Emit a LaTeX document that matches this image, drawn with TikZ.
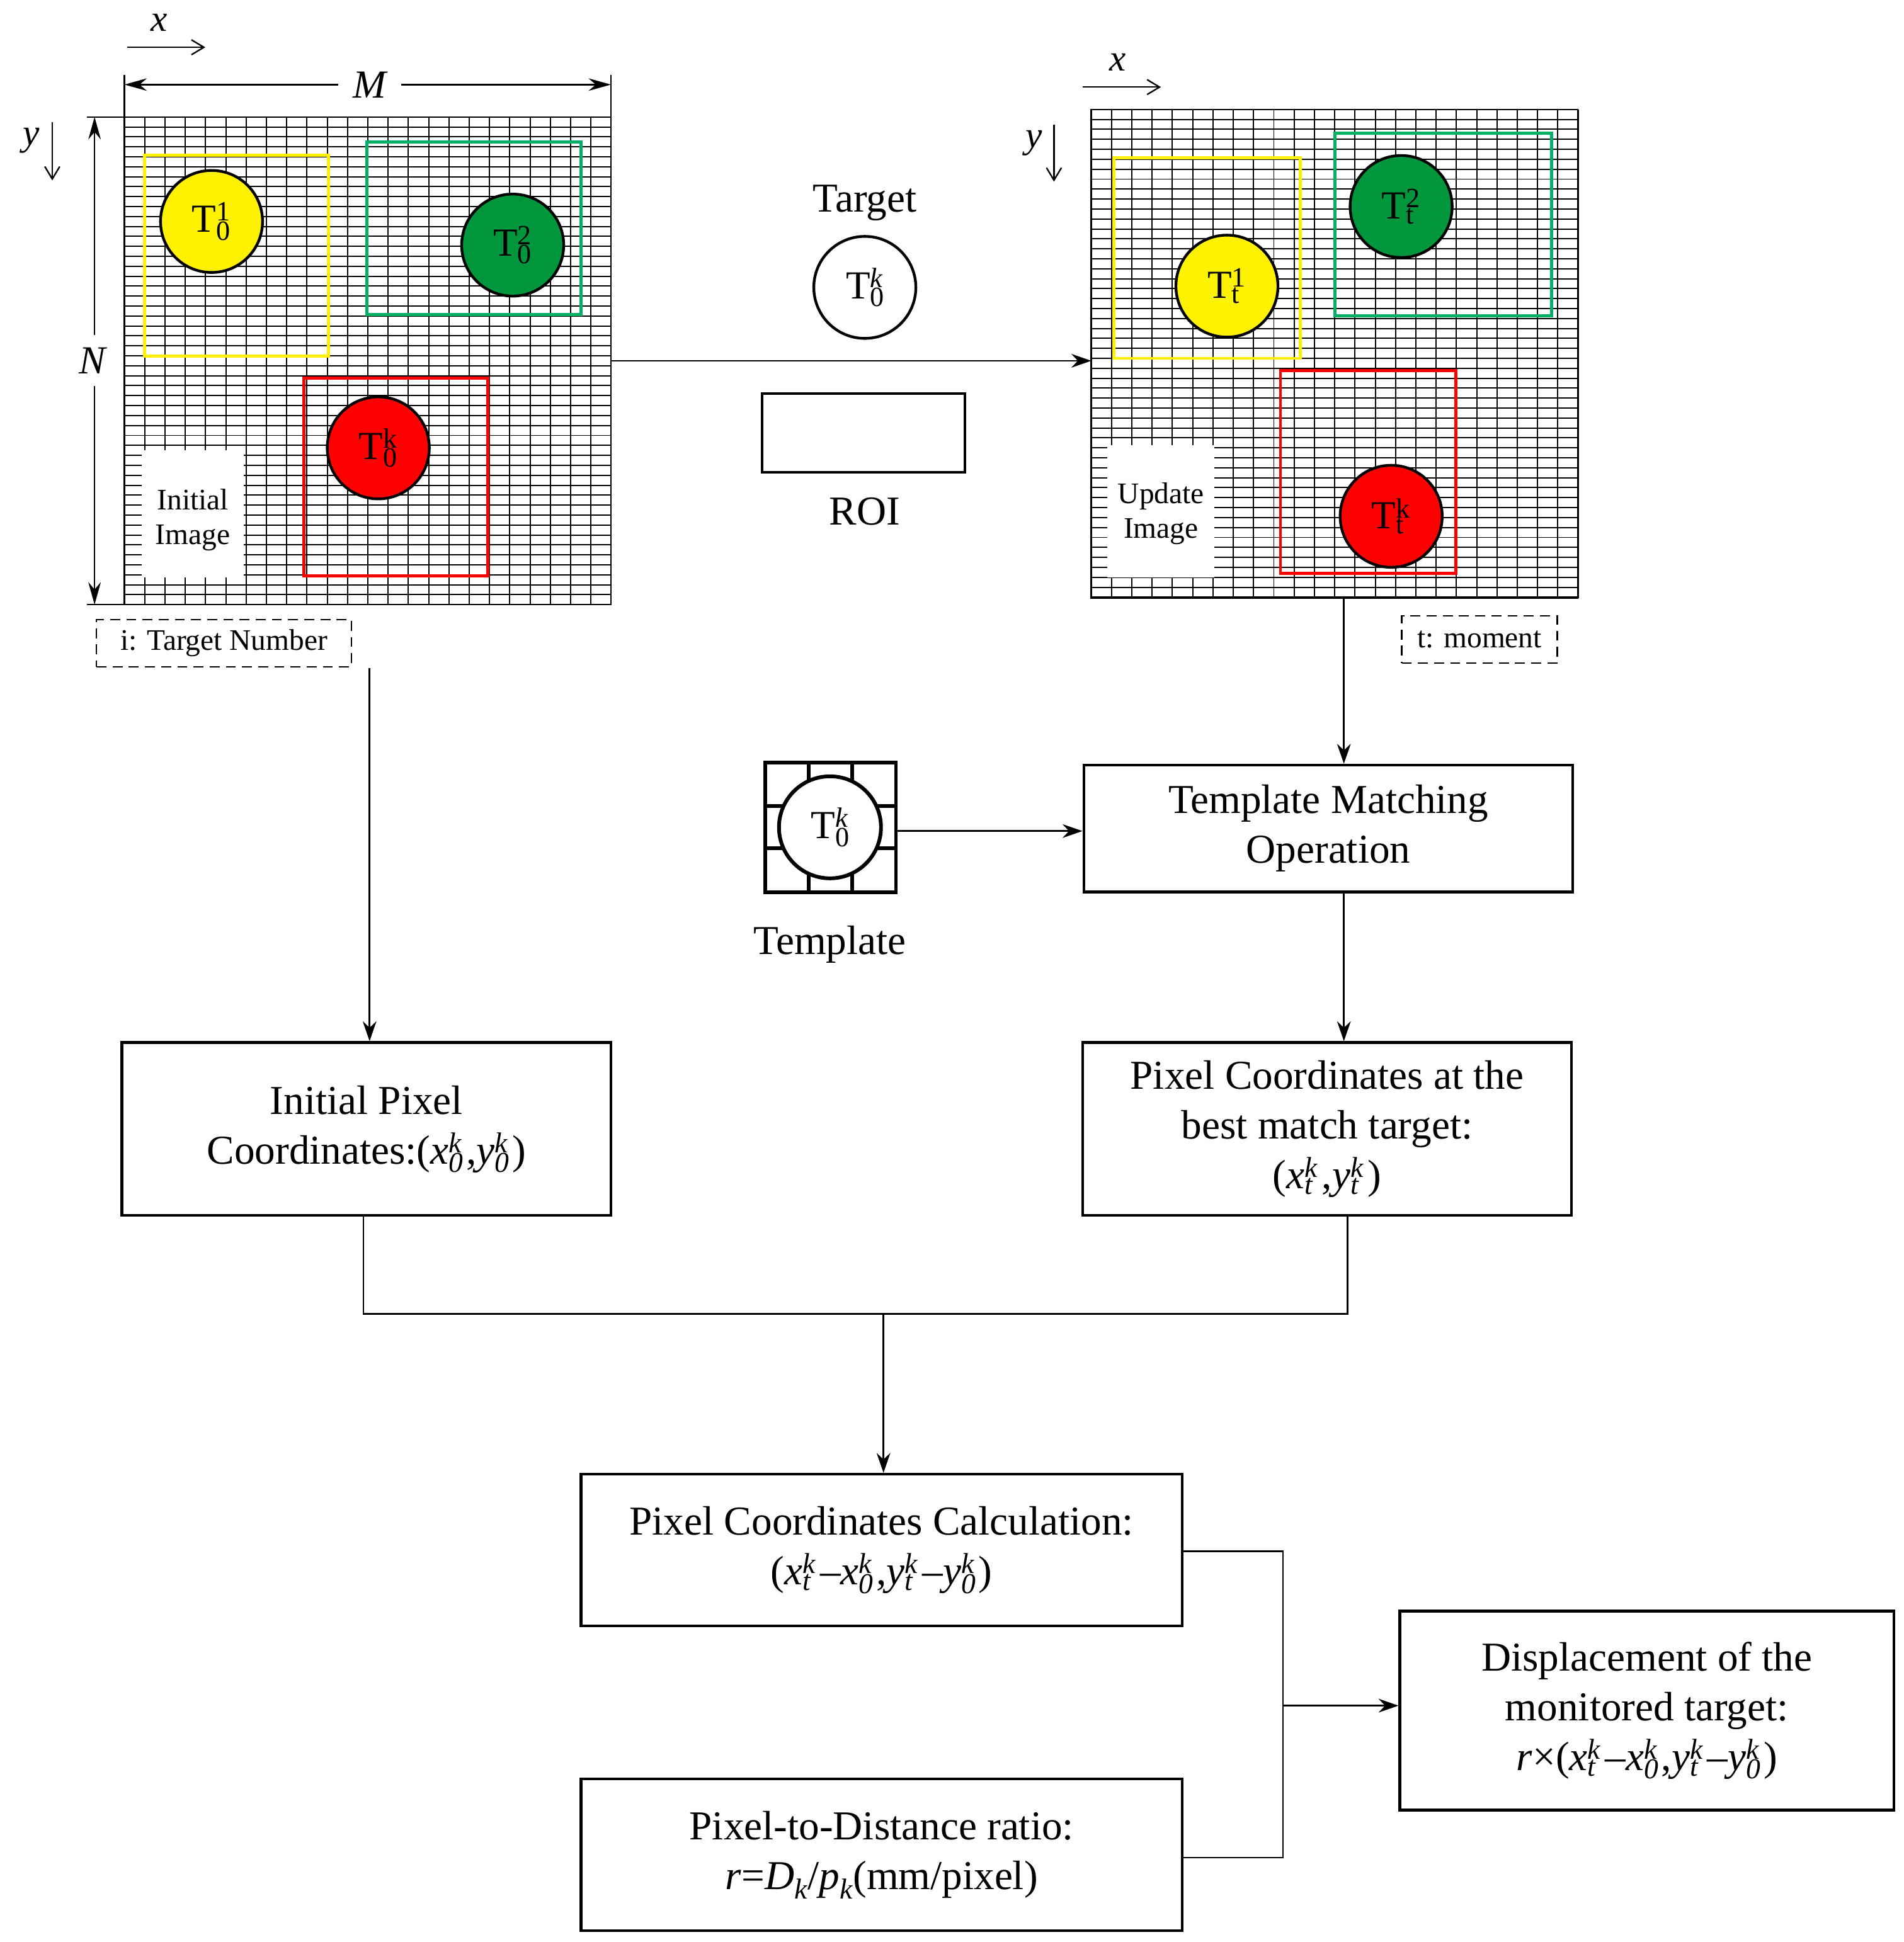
\documentclass[tikz,border=0pt]{standalone}
\usepackage{fontspec}
\setmainfont{Liberation Serif}
\usetikzlibrary{arrows.meta}
\newcommand{\sbsp}[2]{\makebox[0pt][l]{\textsubscript{#1}}\textsuperscript{#2}\hspace{0.1em}}
\definecolor{gbox}{RGB}{0,176,100}
\definecolor{gcir}{RGB}{0,150,60}
\begin{document}
\begin{tikzpicture}[x=1pt,y=-1pt,
  big/.style={font=\fontsize{33}{40}\selectfont,align=center},
  sm/.style={font=\fontsize{24}{28}\selectfont,align=center},
  box/.style={draw,line width=2.2pt},
  arr/.style={-{Stealth[length=16pt,width=11pt]},line width=1.3pt},
  dim/.style={{Stealth[length=18pt,width=10pt]}-{Stealth[length=18pt,width=10pt]},line width=1.3pt},
  xyarr/.style={-{Straight Barb[length=10pt,width=12pt]},line width=1.2pt},
  tc/.style={circle,draw,line width=2.2pt,minimum size=82pt,inner sep=0pt,font=\fontsize{32}{36}\selectfont},
  colbox/.style={line width=2.5pt},
  dbox/.style={draw,dash pattern=on 8pt off 5pt,line width=1.2pt,sm}]
\useasboundingbox (0,0) rectangle (1530,1561);
% ---------- left image
\foreach \i in {0,...,24} \draw[line width=1pt] ({100+\i*16.3},94) -- ({100+\i*16.3},486);
\foreach \j in {0,...,49} \draw[line width=1pt] (100,{94+\j*8}) -- (491,{94+\j*8});
\draw[line width=1.2pt] (100,94) rectangle (491,486);
\fill[white] (114,362) rectangle (196,464);
\node[sm] (ii) at (155,418) {Initial\\Image};
\draw[colbox,yellow] (116,125) rectangle (264,286);
\draw[colbox,gbox] (295,114) rectangle (467,253);
\draw[colbox,red] (244,304) rectangle (392,463);
\node[tc,fill=yellow] (c1) at (170,178) {T\sbsp{0}{1}};
\node[tc,fill=gcir] (c2) at (412,197) {T\sbsp{0}{2}};
\node[tc,fill=red] (c3) at (304,360) {T\sbsp{0}{k}};
\node[font=\fontsize{30}{34}\selectfont\itshape] (xl) at (128,18) {x};
\coordinate (xa) at (102,38); \coordinate (xb) at (165,38);
\draw[xyarr] (xa) -- (xb);
\node[font=\fontsize{30}{34}\selectfont\itshape] (yl) at (25,113) {y};
\coordinate (ya) at (42,98); \coordinate (yb) at (42,145);
\draw[xyarr] (ya) -- (yb);
\coordinate (m1) at (100,68); \coordinate (m2) at (491,68);
\draw[line width=1.2pt] (100,60) -- (100,94) (491,60) -- (491,94);
\draw[dim] (m1) -- (m2);
\node[fill=white,font=\fontsize{32}{36}\selectfont\itshape,inner xsep=12pt] (M) at (297,68) {M};
\coordinate (n1) at (76,94); \coordinate (n2) at (76,486);
\draw[line width=1.2pt] (70,94) -- (100,94) (70,486) -- (100,486);
\draw[dim] (n1) -- (n2);
\node[fill=white,font=\fontsize{32}{36}\selectfont\itshape,inner xsep=1pt,inner ysep=10pt] (N) at (74,290) {N};
\node[dbox,minimum width=205pt,minimum height=38pt] (tn) at (180,517) {i: Target Number};
% ---------- middle
\node[big] (tg) at (695,163) {Target};
\node[tc,fill=white] (c0) at (695,231) {T\sbsp{0}{\textit{k}}};
\node[box,minimum width=163pt,minimum height=63pt] (roi) at (694,348) {};
\node[big] (roil) at (695,411) {ROI};
% ---------- right image
\foreach \i in {0,...,24} \draw[line width=1pt] ({877+\i*16.3},88) -- ({877+\i*16.3},481);
\foreach \j in {0,...,49} \draw[line width=1pt] (877,{88+\j*8}) -- (1268,{88+\j*8});
\draw[line width=1.2pt] (877,88) rectangle (1268,481);
\fill[white] (890,358) rectangle (976,464);
\node[sm] (ui) at (933,413) {Update\\Image};
\draw[colbox,yellow] (895,127) rectangle (1045,288);
\draw[colbox,gbox] (1073,107) rectangle (1247,254);
\draw[colbox,red] (1029,298) rectangle (1170,461);
\node[tc,fill=yellow] (d1) at (986,230) {T\sbsp{t}{1}};
\node[tc,fill=gcir] (d2) at (1126,166) {T\sbsp{t}{2}};
\node[tc,fill=red] (d3) at (1118,415) {T\sbsp{t}{k}};
\node[font=\fontsize{30}{34}\selectfont\itshape] (xr) at (898,50) {x};
\coordinate (xc) at (870,70); \coordinate (xd) at (933,70);
\draw[xyarr] (xc) -- (xd);
\node[font=\fontsize{30}{34}\selectfont\itshape] (yr) at (831,115) {y};
\coordinate (yc) at (847,100); \coordinate (yd) at (847,146);
\draw[xyarr] (yc) -- (yd);
\node[dbox,minimum width=125pt,minimum height=38pt] (mo) at (1189,514) {t: moment};
\coordinate (g1) at (491,290); \coordinate (g2) at (877,290);
\draw[arr] (g1) -- (g2);
% ---------- template
\coordinate (tp1) at (615,613); \coordinate (tp2) at (720,717);
\draw[line width=3pt] (tp1) rectangle (tp2);
\draw[line width=3pt] (650,613) -- (650,717) (685,613) -- (685,717) (615,648) -- (720,648) (615,682) -- (720,682);
\node[tc,fill=white,line width=3pt] (tp) at (667,665) {T\sbsp{0}{\textit{k}}};
\node[big] (tpl) at (667,759) {Template};
\node[box,big,minimum width=393pt,minimum height=102pt] (tm) at (1067.5,666) {Template Matching\\Operation};
\coordinate (tpe) at (720,668);
\draw[arr] (tpe) -- (tm.west |- tpe);
\coordinate (ur) at (1080,481);
\draw[arr] (ur) -- (ur |- tm.north);
% ---------- boxes
\node[box,big,minimum width=393pt,minimum height=139pt] (ip) at (294.5,907.5) {Initial Pixel\\Coordinates:(\textit{x\sbsp{0}{k}},\textit{y\sbsp{0}{k}})};
\node[box,big,minimum width=393pt,minimum height=139pt,inner sep=2pt] (pc) at (1066.5,907.5) {Pixel Coordinates at the\\best match target:\\(\textit{x\sbsp{t}{k}},\textit{y\sbsp{t}{k}})};
\coordinate (lu) at (297,537);
\draw[arr] (lu) -- (lu |- ip.north);
\coordinate (tmb) at (1080,717);
\draw[arr] (tmb) -- (tmb |- pc.north);
\node[box,big,minimum width=483pt,minimum height=122pt] (calc) at (708.5,1246) {Pixel Coordinates Calculation:\\(\textit{x\sbsp{t}{k}}–\textit{x\sbsp{0}{k}},\textit{y\sbsp{t}{k}}–\textit{y\sbsp{0}{k}})};
\node[box,big,minimum width=483pt,minimum height=122pt] (rat) at (708.5,1491) {Pixel-to-Distance ratio:\\\textit{r}=\textit{D\textsubscript{k}}/\textit{p\textsubscript{k}}(mm/pixel)};
\node[box,big,minimum width=397pt,minimum height=160pt] (dis) at (1323.5,1375) {Displacement of the\\monitored target:\\\textit{r}×(\textit{x\sbsp{t}{k}}–\textit{x\sbsp{0}{k}},\textit{y\sbsp{t}{k}}–\textit{y\sbsp{0}{k}})};
\coordinate (j1) at (292,1056); \coordinate (j2) at (1083,1056); \coordinate (j3) at (710,1056);
\draw[line width=1.2pt] (ip.south -| j1) -- (j1) -- (j2) -- (pc.south -| j2);
\draw[arr] (j3) -- (calc.north -| j3);
\coordinate (k1) at (1031,1247); \coordinate (k2) at (1031,1493); \coordinate (k3) at (1031,1371);
\draw[line width=1.2pt] (calc.east |- k1) -- (k1) -- (k2) -- (rat.east |- k2);
\draw[arr] (k3) -- (dis.west |- k3);
\end{tikzpicture}
\end{document}
